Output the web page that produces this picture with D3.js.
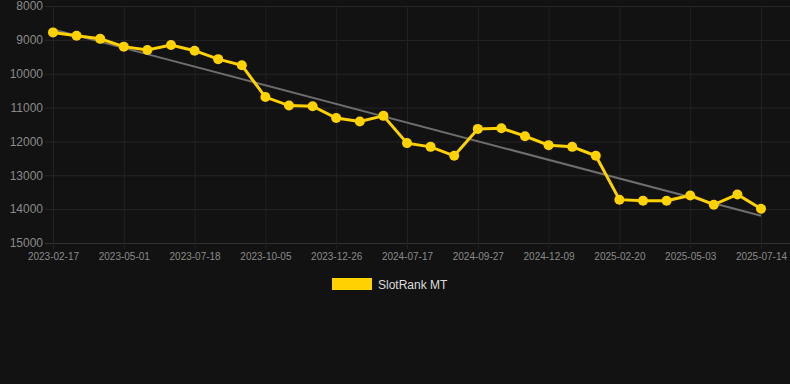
<!DOCTYPE html>
<html>
<head>
<meta charset="utf-8">
<script src="https://cdn.jsdelivr.net/npm/d3@7"></script>
<style>
body { margin: 0; background: #121212; }
svg { display: block; font-family: "Liberation Sans", Arial, sans-serif; }
</style>
</head>
<body>
<div id="chart"></div>
<script>
// dates for each point (only every third one shows as a tick label)
var dates = ["2023-02-17", "2023-03-13", "2023-04-06", "2023-05-01", "2023-05-26", "2023-06-22",
    "2023-07-18", "2023-08-13", "2023-09-09", "2023-10-05", "2023-11-01", "2023-11-28",
    "2023-12-26", "2024-03-05", "2024-05-10", "2024-07-17", "2024-08-10", "2024-09-03",
    "2024-09-27", "2024-10-21", "2024-11-15", "2024-12-09", "2025-01-02", "2025-01-27",
    "2025-02-20", "2025-03-16", "2025-04-09", "2025-05-03", "2025-05-27", "2025-06-20",
    "2025-07-14"];

var ranks = [8780, 8880, 8970, 9200, 9300, 9150, 9320, 9570, 9750, 10690,
    10940, 10960, 11310, 11410, 11245, 12050, 12160, 12425, 11630, 11610,
    11845, 12110, 12160, 12425, 13720, 13750, 13750, 13595, 13870, 13565,
    13990];

// trend line end values (first and last date)
var trend = [8690, 14195];

var yTicks = [8000, 9000, 10000, 11000, 12000, 13000, 14000, 15000];
var seriesName = "SlotRank MT";

var svgWidth = 790;
var svgHeight = 384;

var margin = {top: 6, right: 0, bottom: 141, left: 53};
var width = svgWidth - margin.left - margin.right;
var height = svgHeight - margin.top - margin.bottom;

var svg = d3.select("#chart")
    .append("svg")
    .attr("width", svgWidth)
    .attr("height", svgHeight);

var chartGroup = svg.append("g")
    .attr("transform", `translate(${margin.left}, ${margin.top})`);

var xScale = d3.scalePoint()
    .domain(dates)
    .range([0, 708]);

var yScale = d3.scaleLinear()
    .domain([8000, 15000])
    .range([0, height]);

// horizontal grid + y labels
var leftAxis = d3.axisLeft(yScale)
    .tickValues(yTicks)
    .tickSize(-(width + 8))
    .tickPadding(10)
    .tickFormat(d3.format("d"));

var yAxis = chartGroup.append("g")
    .attr("transform", "translate(-8, 0)")
    .call(leftAxis);
yAxis.select(".domain").remove();
yAxis.selectAll("line")
    .attr("stroke", "#262626")
    .attr("stroke-width", 1);
yAxis.selectAll("line").filter(d => d === 15000).attr("stroke", "#333");
yAxis.selectAll("text")
    .attr("fill", "#8a8a8a")
    .attr("font-size", 12)
    .attr("x", -2);

// vertical grid + x labels (every third date)
var xTickVals = dates.filter((d, i) => i % 3 === 0);
var bottomAxis = d3.axisBottom(xScale)
    .tickValues(xTickVals)
    .tickSize(height + 6)
    .tickPadding(4);

var xAxis = chartGroup.append("g")
    .call(bottomAxis);
xAxis.select(".domain").remove();
xAxis.selectAll("line")
    .attr("stroke", "#222")
    .attr("stroke-width", 1);
xAxis.selectAll("text")
    .attr("fill", "#8a8a8a")
    .attr("font-size", 10);

// trend line
chartGroup.append("line")
    .attr("x1", xScale(dates[0]))
    .attr("y1", yScale(trend[0]))
    .attr("x2", xScale(dates[dates.length - 1]))
    .attr("y2", yScale(trend[1]))
    .attr("stroke", "#6e6e6e")
    .attr("stroke-width", 2);

var line = d3.line()
    .x((d, i) => xScale(dates[i]))
    .y(d => yScale(d));

chartGroup.append("path")
    .datum(ranks)
    .attr("d", line)
    .attr("fill", "none")
    .attr("stroke", "#FFD200")
    .attr("stroke-width", 3);

chartGroup.selectAll("circle")
    .data(ranks)
    .enter()
    .append("circle")
    .attr("cx", (d, i) => xScale(dates[i]))
    .attr("cy", d => yScale(d))
    .attr("r", 5)
    .attr("fill", "#FFD200");

// legend
var legend = svg.append("g")
    .attr("transform", "translate(332, 278)");
legend.append("rect")
    .attr("width", 40)
    .attr("height", 12)
    .attr("fill", "#FFD200");
legend.append("text")
    .attr("x", 46)
    .attr("y", 10.5)
    .attr("fill", "#dddddd")
    .attr("font-size", 12)
    .text(seriesName);
</script>
</body>
</html>
